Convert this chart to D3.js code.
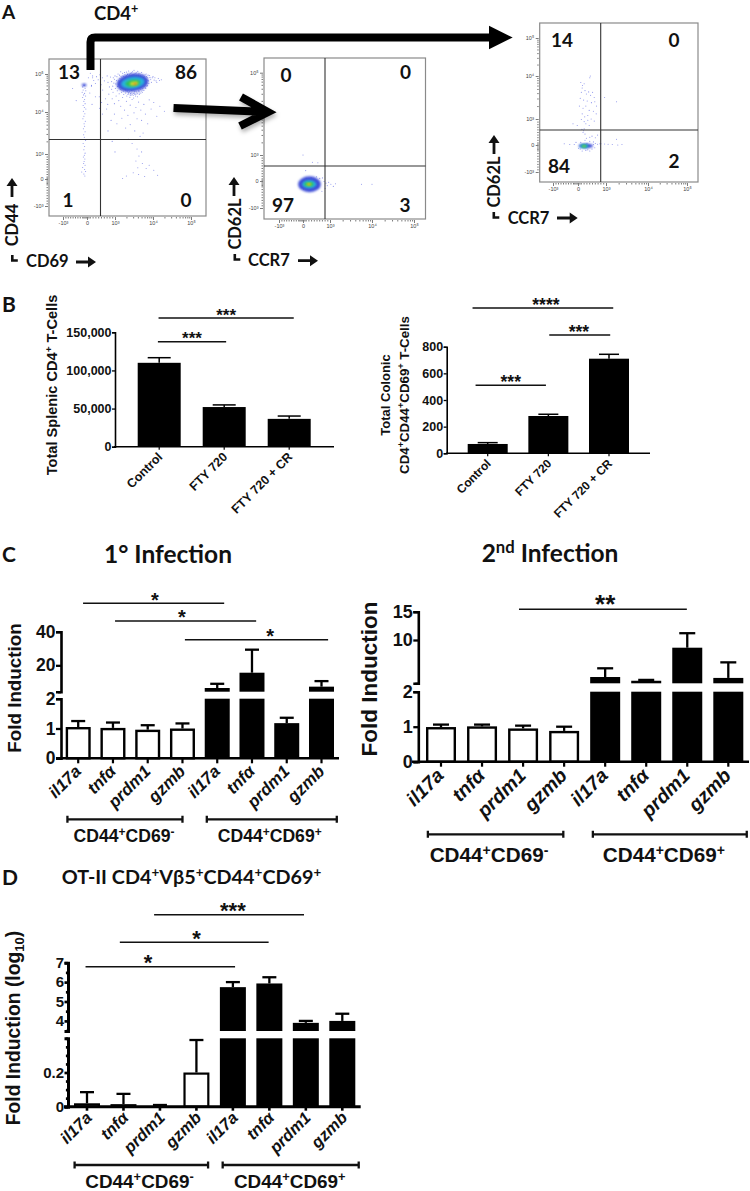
<!DOCTYPE html>
<html><head><meta charset="utf-8">
<script src="https://cdn.jsdelivr.net/npm/d3@7"></script>
<style>html,body{margin:0;padding:0;background:#fff}svg{display:block}</style></head>
<body><div id="c"></div>
<script>
// ---- Values ----
const geneLabels = ["il17a","tnfα","prdm1","gzmb","il17a","tnfα","prdm1","gzmb"];
const treatments = ["Control","FTY 720","FTY 720 + CR"];
const splenicValues = [110000,52000,36500];
const splenicErrors = [116700,54800,40200];
const colonicValues = [70,280,710];
const colonicErrors = [80,293,743];
const firstValues = [1.05,1.02,0.96,1.0,6.5,15.6,1.18,7.3];
const firstErrors = [1.25,1.2,1.11,1.17,9,29.3,1.36,10.6];
const secondValues = [0.99,1.01,0.95,0.88,3.46,2.8,8.64,3.3];
const secondErrors = [1.06,1.06,1.03,1.0,5,2.95,11.2,6.05];
const otValues = [0.02,0.015,0.003,0.2,5.74,5.93,3.9,4.0];
const otErrors = [0.085,0.075,0.01,0.39,6.0,6.25,4.0,4.37];
const flowTickLabels = ["-10³","0","10³","10⁴","10⁵"];
const flowTickValues = [-1,0,1,2,3];
const quadrants1 = [13,86,1,0];
const quadrants2 = [0,0,97,3];
const quadrants3 = [14,0,84,2];
// Flow events in biexponential axis units (-1=-10³, 0=0, 1=10³, 2=10⁴, 3=10⁵)
const flow1Events = [
[.98,2.86],[1.02,2.74],[1.05,2.93],[1.07,2.67],[1.1,2.82],[1.12,2.97],[1.14,2.6],[1.16,2.71],[1.18,2.9],[1.2,3.02],[1.22,2.55],[1.24,2.66],[1.26,2.98],[1.28,2.5],[1.3,3.05],[1.32,2.58],[1.34,2.46],[1.36,3.08],[1.38,2.53],[1.4,3.01],[1.42,2.44],[1.44,2.57],[1.46,3.06],[1.48,2.49],[1.5,3.1],[1.52,2.54],[1.54,2.42],[1.56,3.03],[1.58,2.5],[1.6,3.07],[1.62,2.56],[1.64,2.46],[1.66,3.0],[1.68,2.59],[1.7,3.04],[1.72,2.52],[1.74,2.97],[1.76,2.63],[1.78,2.94],[1.8,2.69],[1.82,3.0],[1.84,2.76],[1.86,2.9],[1.88,2.82],[1.91,2.96],[1.94,2.86],[1.98,2.9],[2.03,2.84],[2.08,2.82],[2.14,2.88],[2.22,2.85],
[.72,2.95],[.75,2.78],[.8,2.66],[.84,2.92],[.88,2.6],[.62,2.82],[.55,2.9],[.5,2.72],[.46,2.98],[.4,2.85],[.34,2.93],[.3,2.75],[.24,2.83],[.2,2.9],[.16,2.7],[.93,2.52],[.78,2.47],[.66,2.35],[.56,2.58],[.44,2.4],[.74,2.2],[.7,2.08],[.9,2.35],[.98,2.22],[1.03,2.42],[1.1,2.3],[1.15,2.15],[1.2,2.38],[1.25,2.05],[1.3,2.28],[1.34,1.92],[1.4,2.18],[1.45,2.33],[1.5,1.98],[1.55,2.12],[1.58,1.84],[1.62,2.26],[1.68,2.05],[1.7,1.8],[1.76,2.2],[1.8,1.95],[1.86,1.72],[1.9,2.32],[1.95,2.08],[2.02,2.25],[2.1,1.9],[2.18,2.15],[2.3,2.02],[.98,1.95],[.86,1.8],[1.05,1.72],[1.18,1.85],[1.28,1.62],[1.4,1.7],[1.52,1.55],[1.66,1.42],[1.74,1.5],[1.35,1.35],[1.45,1.25],[1.58,1.12],[1.63,.92],[1.7,1.05],[1.55,.72],[1.72,.62],[1.6,.45],[1.48,.25],[1.3,.12],[1.9,.55],[2.02,.35],[2.12,.15],[1.78,.1],[1.62,.18],[1.82,.42],[1.2,.02],[.75,1.55],[.9,1.3],[1,1.05]
];
const flow1Halo = [
[.88,2.8],[.92,2.68],[.94,2.9],[.96,2.76],[1,2.95],[1.01,2.62],[1.04,2.83],[1.06,2.56],[1.08,3.0],[1.09,2.72],[1.11,2.48],[1.13,2.88],[1.15,3.06],[1.17,2.52],[1.19,2.63],[1.21,2.95],[1.23,2.46],[1.25,3.04],[1.27,2.56],[1.29,2.94],[1.31,2.42],[1.33,2.99],[1.35,2.51],[1.37,2.96],[1.39,2.39],[1.41,2.49],[1.43,3.03],[1.45,2.46],[1.47,2.98],[1.49,2.37],[1.51,2.5],[1.53,3.01],[1.55,2.47],[1.57,2.96],[1.59,2.4],[1.61,2.53],[1.63,3.02],[1.65,2.5],[1.67,2.95],[1.69,2.55],[1.71,2.98],[1.73,2.58],[1.75,2.91],[1.77,2.68],[1.79,2.98],[1.81,2.62],[1.83,2.93],[1.85,2.7],[1.87,2.97],[1.89,2.75],[1.92,2.91],[1.96,2.78],[2,2.93],[2.05,2.9],[2.1,2.78],[2.17,2.83],
[1.08,2.68],[1.12,2.64],[1.14,2.76],[1.16,2.94],[1.18,2.58],[1.2,2.68],[1.22,2.93],[1.24,2.6],[1.26,2.92],[1.28,2.6],[1.3,2.96],[1.32,2.54],[1.34,3.0],[1.36,2.48],[1.38,2.98],[1.4,2.45],[1.42,2.95],[1.44,2.5],[1.46,2.93],[1.48,2.44],[1.5,2.99],[1.52,2.47],[1.54,2.94],[1.56,2.53],[1.58,2.92],[1.6,2.48],[1.62,2.97],[1.64,2.55],[1.66,2.92],[1.68,2.5],[1.7,2.91],[1.72,2.62],[1.74,2.88],[1.76,2.57],[1.78,2.87],[1.8,2.64],[1.82,2.86],[1.84,2.68],[1.86,2.84]
];
const flow1Column = [
[-.12,2.7],[-.18,2.66],[-.08,2.62],[-.16,2.58],[-.05,2.56],[-.2,2.52],[-.1,2.49],[-.14,2.45],[-.06,2.42],[-.18,2.38],[-.1,2.33],[-.13,2.28],[-.08,2.22],[-.16,2.17],[-.11,2.12],[-.05,2.08],[-.15,2.02],[-.09,1.96],[-.13,1.9],[-.17,1.84],[-.07,1.78],[-.12,1.72],[-.1,1.66],[-.15,1.6],[-.08,1.53],[-.14,1.46],[-.11,1.4],[-.06,1.32],[-.16,1.25],[-.1,1.18],[-.13,1.1],[-.08,1.02],[-.11,.95],[-.15,.88],[-.09,.8],[-.12,.7],[-.14,.62],[-.08,.55],[-.18,.46],[-.1,.38],[-.06,.3],[-.13,.2],[-.22,.28],[-.09,.12],[.1,2.5],[.16,2.68],[.3,2.4],[.18,2.2],[.45,2.1],[.55,1.95],[.52,2.25],[.2,2.95],[.12,3.02],[.05,2.9],[-.6,2.62],[-.45,2.3]
];
const flow1Density = [
[1.46,2.77,.42,.24,0,-8],[1.47,2.77,.31,.15,1,-8],[1.47,2.76,.2,.09,2,-8],[1.5,2.75,.11,.05,3,-8],[1.53,2.74,.04,.02,4,-8],[-.12,2.71,.1,.04,0,0]
];
const flow2Events = [
[.0,1.0],[.35,.72],[.55,.7],[.1,.4],[.72,.12],[.78,-.02],[.85,-.08],[.9,-.17],[.95,-.05],[1.02,-.12],[1.08,-.2],[1.13,-.1],[.82,-.28],[.7,-.38],[1.75,-.12],[2.0,-.12],[-.1,-.1],[.02,-.3],[.12,.1],[.3,.13],[.5,.16],[.62,.1]
];
const flow2Density = [
[.24,-.12,.42,.3,0,0],[.23,-.12,.26,.15,1,0],[.22,-.12,.17,.08,2,0],[.22,-.12,.09,.045,3,0],[.22,-.12,.04,.02,4,0]
];
const flow3Events = [
[.42,1.96],[.44,2],[.1,1.85],[.16,1.78],[.22,1.82],[.15,1.72],[.25,1.66],[.12,1.62],[.3,1.58],[.38,1.63],[.45,1.55],[.52,1.62],[.58,1.5],[.08,1.48],[.2,1.44],[.33,1.42],[.48,1.38],[.6,1.4],[.66,1.3],[.05,1.3],[.18,1.25],[.28,1.3],[.4,1.2],[.55,1.18],[.65,1.12],[.15,1.12],[.24,1.05],[.35,1.08],[.47,1],[.58,.92],[.22,.9],[.35,.95],[.12,.98],[.28,.82],[.4,.75],[-.03,.75],[-.2,.82],[.14,.6],[.2,.55],[.18,.48],[.25,.42],[.22,.62],[.95,1.5],[1.25,1.4],[.42,.3],[.5,.34],[.62,.28],[.7,.38],[.3,.26],[.25,.18],[.42,.14],[.55,.12],[.32,.07],[-.55,.05],[-.33,.02],[-.15,.02],[-.08,.1],[.02,-.12],[.1,.1],[.08,-.15],[.15,-.22],[.28,-.2],[.35,-.18],[.42,-.22],[.5,-.15],[.6,-.1],[.7,.03],[.82,.05],[.95,.04],[1.05,.03],[1.15,.02],[1.28,.0],[1.38,.02],[1.25,.22],[.78,.05],[.62,.06],[.55,.02]
];
const flow3Density = [
[.28,-.03,.26,.09,0,0],[.22,-.04,.15,.07,1,0],[.22,-.04,.1,.05,2,0],[.22,-.04,.04,.025,3,0]
];
const densityColors = ["#3f4fd8","#25b4dc","#2dc05a","#d7d92a","#e05a20"];

// ---- Set-up ----
const svg = d3.select("#c").append("svg").attr("width",750).attr("height",1191).attr("viewBox","0 0 750 1191");
const defs = svg.append("defs");
defs.append("filter").attr("id","soft").attr("x","-30%").attr("y","-30%").attr("width","160%").attr("height","160%")
  .append("feGaussianBlur").attr("stdDeviation",1.3);
const shadow = defs.append("filter").attr("id","shadow").attr("x","-20%").attr("y","-40%").attr("width","150%").attr("height","190%");
shadow.append("feDropShadow").attr("dx",1).attr("dy",3).attr("stdDeviation",2).attr("flood-opacity",.3);
const SANS = "'Liberation Sans',Arial,sans-serif", CAL = "Lato,'Open Sans',sans-serif";

function rich(x,y,parts,fs,opt={}){
  const t = svg.append("text").attr("font-family",opt.font||CAL).attr("font-weight",opt.weight||"bold")
    .attr("font-size",fs).attr("fill","#111").attr("text-anchor",opt.anchor||"middle");
  if(opt.rotate) t.attr("transform",`translate(${x},${y}) rotate(${opt.rotate})`);
  else t.attr("x",x).attr("y",y);
  let shift = 0;
  parts.forEach(p=>{
    const sup = p[1]==="sup", sub = p[1]==="sub";
    const target = sup ? -fs*.36 : sub ? fs*.22 : 0;
    t.append("tspan").attr("dy",target-shift).attr("font-size",(sup||sub)?fs*.68:fs).text(p[0]);
    shift = target;
  });
  return t;
}

// ---- Panel A ----
function flowPlot(c){
  const g = svg.append("g");
  const x = d3.scaleLinear().domain(flowTickValues).range(c.xr);
  const y = d3.scaleLinear().domain(flowTickValues).range(c.yr);
  g.append("g").selectAll("circle").data(c.events).join("circle")
    .attr("cx",d=>x(d[0])).attr("cy",d=>y(d[1])).attr("r",.55).attr("fill","#4a55e0").attr("fill-opacity",.62);
  c.density.forEach(d=>{
    g.append("ellipse").attr("cx",x(d[0])).attr("cy",y(d[1]))
     .attr("rx",Math.abs(x(d[0]+d[2])-x(d[0]))).attr("ry",Math.abs(y(d[1]+d[3])-y(d[1])))
     .attr("fill",densityColors[d[4]]).attr("filter","url(#soft)")
     .attr("transform",`rotate(${d[5]} ${x(d[0])} ${y(d[1])})`);
  });
  g.append("rect").attr("x",c.box[0]).attr("y",c.box[1]).attr("width",c.box[2]-c.box[0]).attr("height",c.box[3]-c.box[1])
    .attr("fill","none").attr("stroke","#8a8a8a").attr("stroke-width",1.2);
  g.append("line").attr("x1",c.cross[0]).attr("x2",c.cross[0]).attr("y1",c.box[1]).attr("y2",c.box[3]).attr("stroke","#333").attr("stroke-width",1.1);
  g.append("line").attr("y1",c.cross[1]).attr("y2",c.cross[1]).attr("x1",c.box[0]).attr("x2",c.box[2]).attr("stroke","#333").attr("stroke-width",1.1);
  const minor = [];
  [-1,0].forEach(b=>d3.range(1,10).forEach(k=>minor.push(b+k/10)));
  [1,2].forEach(b=>d3.range(2,10).forEach(k=>minor.push(b+Math.log10(k))));
  const fmt = d=>{const i=flowTickValues.indexOf(d);return i<0?"":flowTickLabels[i];};
  const vals = flowTickValues.concat(minor,[-.15,-.05,.05]);
  function style(a){
    a.select(".domain").remove();
    a.selectAll("line").attr("stroke","#222").attr("stroke-width",.6);
    a.selectAll("text").attr("font-family",SANS).attr("font-size",5.5).attr("fill","#444");
  }
  const ax = g.append("g").attr("transform",`translate(0,${c.box[3]+1})`)
    .call(d3.axisBottom(x).tickValues(vals).tickFormat(fmt).tickSize(1.5).tickPadding(3));
  ax.selectAll(".tick").filter(d=>flowTickValues.includes(d)).select("line").attr("y2",3);
  ax.call(style);
  const ay = g.append("g").attr("transform",`translate(${c.box[0]-1},0)`)
    .call(d3.axisLeft(y).tickValues(vals).tickFormat(fmt).tickSize(1.5).tickPadding(3));
  ay.selectAll(".tick").filter(d=>flowTickValues.includes(d)).select("line").attr("x2",-3);
  ay.call(style);
  c.numbers.forEach((n,i)=>{
    svg.append("text").attr("x",c.numPos[i][0]).attr("y",c.numPos[i][1]).attr("text-anchor","middle")
      .attr("font-family",CAL).attr("font-weight","bold").attr("font-size",19).attr("fill","#111").text(n);
  });
}
flowPlot({box:[49,59,206,216],cross:[100.5,139.5],xr:[63,87,115,153,191],yr:[206,179,154,112,74],
  events:flow1Events.concat(flow1Halo,flow1Column),density:flow1Density,numbers:quadrants1,numPos:[[69,79],[186,79],[68,207],[186,207]]});
flowPlot({box:[264,58,425.5,219],cross:[325,166],xr:[279,303,330,372,414],yr:[208,181,155,113,72.7],
  events:flow2Events,density:flow2Density,numbers:quadrants2,numPos:[[286,82],[405.5,79],[283,212],[405,212]]});
flowPlot({box:[539.7,23,698,182],cross:[600.7,130],xr:[553,578,606,648,687],yr:[172,145,119,76,38],
  events:flow3Events,density:flow3Density,numbers:quadrants3,numPos:[[562,47],[674,47],[559,173],[674,168]]});

function blockArrow(x1,y1,x2,y2){
  const dx=x2-x1,dy=y2-y1,l=Math.hypot(dx,dy),ux=dx/l,uy=dy/l,nx=-uy,ny=ux,h=8,w=5.5,s=1.4;
  svg.append("path").attr("fill","#111").attr("d",
   `M${x1+nx*s},${y1+ny*s}L${x2-ux*h+nx*s},${y2-uy*h+ny*s}L${x2-ux*h+nx*w},${y2-uy*h+ny*w}L${x2},${y2}L${x2-ux*h-nx*w},${y2-uy*h-ny*w}L${x2-ux*h-nx*s},${y2-uy*h-ny*s}L${x1-nx*s},${y1-ny*s}Z`);
}
function corner(x,y){ svg.append("path").attr("fill","#111").attr("d",`M${x},${y}h2.6v4.2h4.2v2.6h-6.8Z`); }
const axisFS = 16.5;
rich(18,225,[["CD44"]],axisFS,{rotate:-90}); rich(26,267,[["CD69"]],axisFS,{anchor:"start"});
blockArrow(12,197,12,178); blockArrow(76,262,96,262); corner(11,255);
rich(240.7,224,[["CD62L"]],axisFS,{rotate:-90}); rich(248,266,[["CCR7"]],axisFS,{anchor:"start"});
blockArrow(234,196,234,177); blockArrow(298,260.7,318,260.7); corner(233.5,254);
rich(500,182,[["CD62L"]],axisFS,{rotate:-90}); rich(507.7,224,[["CCR7"]],axisFS,{anchor:"start"});
blockArrow(494,154,494,135); blockArrow(557,218,577.7,218); corner(492.5,212);
svg.append("path").attr("fill","none").attr("stroke","#000").attr("stroke-width",8)
  .attr("d","M90.5,70 V42 Q90.5,37.5 95,37.5 H492");
svg.append("path").attr("fill","#000").attr("d","M489,25.7 L512.7,37.5 L489,49.3 Z");
svg.append("path").attr("fill","none").attr("stroke","#000").attr("stroke-width",8).attr("filter","url(#shadow)")
  .attr("d","M173.5,108 L267,112 M241,97 L268,112 L240,126");
rich(94,19.5,[["CD4"],["+","sup"]],18.5,{anchor:"start"});
[["A",2,18.8,19],["B",2,311.7,21],["C",2,561.7,21],["D",2,885,21]].forEach(d=>rich(d[1],d[2],[[d[0]]],d[3],{anchor:"start"}));

// ---- Bar panels ----
function barPanel(c){
  const g = svg.append("g");
  const n = c.labels.length, step=(c.bars[1]-c.bars[0]-c.bars[2])/(n-1);
  const x = d3.scaleBand().domain(d3.range(n)).range([c.bars[0],c.bars[1]]).paddingInner(1-c.bars[2]/step).paddingOuter(0);
  const segs = c.segments.map(s=>Object.assign({scale:d3.scaleLinear().domain(s.domain).range(s.range)},s));
  const yOf = v=>{ const s = segs.find(s=>v<=s.domain[1])||segs[segs.length-1]; return s.scale(v); };
  const idx = d3.scaleLinear().domain([0,n-1]).range([x(0)+x.bandwidth()/2,x(n-1)+x.bandwidth()/2]);
  const sw=c.barStroke||2.4;
  c.values.forEach((v,i)=>{
    const white = c.white && i<c.white;
    segs.forEach((s,k)=>{
      if(k>0 && v<s.domain[0]) return;
      const top = s.scale(Math.min(v,s.domain[1])), base=s.range[0];
      const rect = g.append("rect").attr("class","bar");
      if(white){
        rect.attr("x",x(i)+sw/2).attr("width",x.bandwidth()-sw).attr("y",top+sw/2).attr("height",Math.max(0,base-top-sw/2))
         .attr("fill","#fff").attr("stroke","#000").attr("stroke-width",sw);
      } else {
        rect.attr("x",x(i)).attr("width",x.bandwidth()).attr("y",top).attr("height",base-top).attr("fill","#000");
      }
    });
    const cx=x(i)+x.bandwidth()/2, ye=yOf(c.errors[i]), yv=yOf(v), cap=c.cap;
    g.append("line").attr("x1",cx).attr("x2",cx).attr("y1",yv).attr("y2",ye).attr("stroke","#000").attr("stroke-width",c.errStroke);
    g.append("line").attr("x1",cx-cap/2).attr("x2",cx+cap/2).attr("y1",ye).attr("y2",ye).attr("stroke","#000").attr("stroke-width",c.errStroke);
  });
  const xa = g.append("g").attr("transform",`translate(0,${c.baseline})`)
    .call(d3.axisBottom(x).tickFormat(i=>c.labels[i]).tickSize(c.xTick).tickSizeOuter(0));
  xa.select(".domain").remove();
  xa.selectAll("line").attr("stroke","#000").attr("stroke-width",c.axisStroke-.4);
  xa.selectAll("text").attr("font-family",SANS).attr("font-weight","bold").attr("font-style",c.italic?"italic":"normal")
    .attr("font-size",c.xFS).attr("fill","#111").attr("text-anchor","end").attr("x",0).attr("y",0).attr("dy",0)
    .attr("transform",`translate(${c.xOff[0]},${c.xOff[1]}) rotate(-45)`);
  g.append("line").attr("x1",c.xSpan[0]).attr("x2",c.xSpan[1]).attr("y1",c.baseline).attr("y2",c.baseline).attr("stroke","#000").attr("stroke-width",c.axisStroke);
  segs.forEach(s=>{
    const a = g.append("g").attr("transform",`translate(${c.axisX},0)`)
      .call(d3.axisLeft(s.scale).tickValues(s.ticks).tickSizeOuter(0).tickSize(c.yTick).tickPadding(c.yPad)
        .tickFormat(d=>s.labeled.includes(d)?(c.fmt?c.fmt(d):d):""));
    a.select(".domain").attr("stroke","#000").attr("stroke-width",c.axisStroke);
    a.selectAll("line").attr("stroke","#000").attr("stroke-width",c.axisStroke-.3);
    a.selectAll(".tick").filter(d=>!s.labeled.includes(d)).select("line").attr("x2",-c.yTick*.6);
    a.selectAll("text").attr("font-family",SANS).attr("font-weight","bold").attr("font-size",c.yFS).attr("fill","#111");
  });
  c.sig.forEach(s=>{
    g.append("line").attr("x1",idx(s[0])).attr("x2",idx(s[1])).attr("y1",s[2]).attr("y2",s[2]).attr("stroke","#111").attr("stroke-width",1.4);
    g.append("text").attr("x",idx(s[4])).attr("y",s[2]-c.starGap+c.starFS*.32).attr("text-anchor","middle")
      .attr("font-family",SANS).attr("font-weight","bold").attr("font-size",c.starFS).attr("fill","#111").text(s[3]);
  });
  (c.groups||[]).forEach(b=>{
    g.append("path").attr("fill","none").attr("stroke","#111").attr("stroke-width",2.3)
      .attr("d",`M${idx(b[0])},${c.groupY}H${idx(b[1])}M${idx(b[0])},${c.groupY-3.5}v7M${idx(b[1])},${c.groupY-3.5}v7`);
    rich(idx(b[2]),c.groupLabelY,[["CD44"],["+","sup"],["CD69"],[b[3],"sup"]],c.groupFS,{font:SANS});
  });
}
const commaFmt = d3.format(",");
barPanel({labels:treatments,values:splenicValues,errors:splenicErrors,bars:[137.7,310.7,43],baseline:446.7,xSpan:[114,334],axisX:115,
  segments:[{domain:[0,150000],range:[446.7,332.3],ticks:[0,50000,100000,150000],labeled:[0,50000,100000,150000]}],
  fmt:commaFmt,yTick:3,yPad:.5,yFS:12.5,xFS:12.5,xTick:3,xOff:[4,11],axisStroke:1.6,errStroke:1.5,cap:23,
  starFS:17,starGap:2.9,sig:[[-.01,2.07,318,"***",1.03],[-.02,1.03,341.7,"***",.505]]});
barPanel({labels:treatments,values:colonicValues,errors:colonicErrors,bars:[467.7,629,40],baseline:453.3,xSpan:[446,650],axisX:446.7,
  segments:[{domain:[0,800],range:[453.3,346.7],ticks:[0,200,400,600,800],labeled:[0,200,400,600,800]}],
  yTick:3,yPad:.5,yFS:12.5,xFS:12,xTick:3,xOff:[4,11],axisStroke:1.6,errStroke:1.5,cap:20,
  starFS:17.5,starGap:2.9,sig:[[-.25,2.07,308,"****",.96],[1.015,2.02,335,"***",1.505],[-.2,.96,385.3,"***",.38]]});
rich(57,385,[["Total Splenic CD4"],["+","sup"],[" T-Cells"]],14.6,{font:SANS,rotate:-90});
rich(390,395,[["Total Colonic"]],13,{font:SANS,rotate:-90});
rich(409,395,[["CD4"],["+","sup"],["CD44"],["+","sup"],["CD69"],["+","sup"],[" T-Cells"]],13.3,{font:SANS,rotate:-90});

barPanel({labels:geneLabels,values:firstValues,errors:firstErrors,white:4,bars:[65.7,334,25],baseline:758.3,xSpan:[56,339],axisX:61,italic:true,
  segments:[{domain:[0,2],range:[758.3,698.7],ticks:[0,1,2],labeled:[0,1,2]},{domain:[4.3,40],range:[691.7,631.7],ticks:[4.3,20,40],labeled:[20,40]}],
  yTick:5,yPad:.5,yFS:17.5,xFS:17,xTick:5,xOff:[4,14],axisStroke:2.6,errStroke:2.3,cap:14,starFS:20,starGap:3,
  sig:[[.14,4.2,603.3,"*",2.21],[1.06,5.12,621,"*",2.98],[3.07,7.19,639.7,"*",5.52]],
  groups:[[-.31,3.0,1.32,"-"],[3.7,7.44,5.51,"+"]],groupY:819.3,groupLabelY:842,groupFS:17.6});
barPanel({labels:geneLabels,values:secondValues,errors:secondErrors,white:4,bars:[426,743.3,30],baseline:761.7,xSpan:[412,749],axisX:418.3,italic:true,
  segments:[{domain:[0,2],range:[761.7,691.7],ticks:[0,1,2],labeled:[0,1,2]},{domain:[2.35,15],range:[683.3,611.7],ticks:[2.35,10,15],labeled:[10,15]}],
  yTick:5,yPad:.5,yFS:18,xFS:19.5,xTick:5,xOff:[4,15],axisStroke:2.6,errStroke:2.3,cap:16,starFS:26,starGap:4.6,
  sig:[[1.9,5.99,609.3,"**",4.0]],
  groups:[[-.32,2.98,1.17,"-"],[3.7,7.45,5.43,"+"]],groupY:834.3,groupLabelY:862,groupFS:20.7});
barPanel({labels:geneLabels,values:otValues,errors:otErrors,white:4,bars:[74,355.3,26],baseline:1106.7,xSpan:[64,360.7],axisX:68,italic:true,
  segments:[{domain:[0,.4],range:[1106.7,1038.3],ticks:d3.range(0,.41,.05).map(d=>+d.toFixed(2)),labeled:[0,.2]},
            {domain:[3.48,7],range:[1031,962.7],ticks:[3.5,4,4.5,5,5.5,6,6.5,7],labeled:[4,5,6,7]}],
  fmt:d=>d===0.2?"0.2":d,yTick:3.5,yPad:.5,yFS:15,xFS:16.5,xTick:4,xOff:[6,12],axisStroke:3,errStroke:2.3,cap:14,barStroke:2.2,starFS:22,starGap:3.7,
  sig:[[1.84,5.95,914.7,"***",4.0],[.9,4.98,942.3,"*",3.0],[-.04,4.06,966.7,"*",1.67]],
  groups:[[-.34,3.32,1.44,"-"],[3.72,7.45,5.56,"+"]],groupY:1165,groupLabelY:1188,groupFS:18.9});

rich(168,563,[["1° Infection"]],24.5);
rich(550,562,[["2"],["nd","sup"],[" Infection"]],24.5);
rich(191.5,884,[["OT-II CD4"],["+","sup"],["Vβ5"],["+","sup"],["CD44"],["+","sup"],["CD69"],["+","sup"]],19.8);
rich(21,688,[["Fold Induction"]],18.8,{font:SANS,rotate:-90});
rich(377,679,[["Fold Induction"]],22.5,{font:SANS,rotate:-90});
rich(20,1028,[["Fold Induction (log"],["10","sub"],[")"]],19.3,{font:SANS,rotate:-90});
</script></body></html>
